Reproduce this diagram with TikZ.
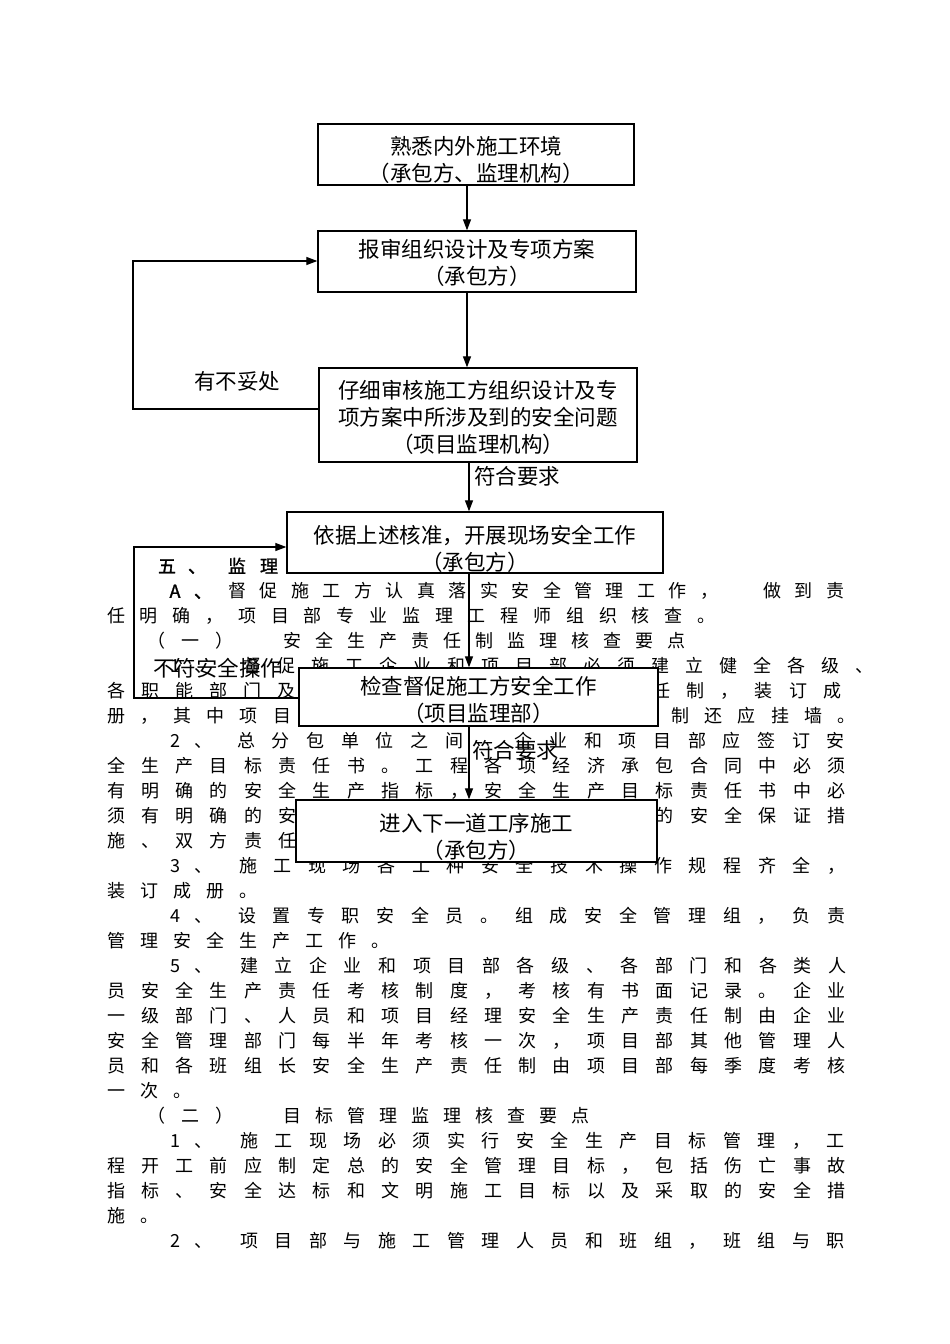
\documentclass[tikz,border=0pt]{standalone}
\usepackage{fontspec}
\newfontfamily\cjk{Noto Sans CJK SC}
\newfontfamily\cjkb[FakeBold=1.5]{Noto Sans CJK SC}
\usetikzlibrary{arrows.meta}
\tikzset{
  bt/.style={inner sep=0pt, anchor=center, text height=15.84pt, text depth=2.16pt, font=\cjk\fontsize{18}{18}\selectfont},
  btb/.style={bt, font=\cjkb\fontsize{18}{18}\selectfont},
  fbox/.style={draw, line width=1.3pt, fill=white, inner sep=0pt, align=center, font=\cjk\fontsize{21.5}{27}\selectfont},
  lbl/.style={inner sep=0pt, font=\cjk\fontsize{21.5}{27}\selectfont},
  conn/.style={line width=1.2pt, -{Triangle[length=11pt,width=8pt]}},
}
\newcommand\TL[4]{\foreach \cc [count=\ii from 0] in {#4}{\node[bt] (t#1n\ii) at ({#2+\ii*#3},#1) {\cc};}}
\newcommand\TP[3][bt]{\foreach \xx/\cc [count=\ii] in {#3}{\node[#1] (p#2n\ii) at (\xx,#2) {\cc};}}
% strut that pushes a box's text down by #1 pt
\newcommand\dn[1]{\rule{0pt}{\dimexpr 19pt+2\dimexpr #1pt\relax\relax}}
\begin{document}
\begin{tikzpicture}[x=1pt,y=-1pt]
\useasboundingbox (0,0) rectangle (950,1344);
\fill[white] (0,0) rectangle (950,1344);
% ---------------- body text ----------------
\TP[btb]{566}{167/五,197/、,237/监,269/理}
\TP[btb]{591}{175/A,203/、}
\TL{591}{237.5}{31.45}{督,促,施,工,方,认,真,落,实,安,全,管,理,工,作,，,{},做,到,责}
\TL{616}{116}{32.8}{任,明,确,，,项,目,部,专,业,监,理,工,程,师,组,织,核,查,。}
\TP{641}{156/（,190/一,224/）}
\TL{641}{292}{32}{安,全,生,产,责,任,制,监,理,核,查,要,点}
\TP{666}{175/1,203/、}
\TL{666}{252}{34}{督,促,施,工,企,业,和,项,目,部,必,须,建,立,健,全,各,级,、}
\TL{691}{116}{34.1}{各,职,能,部,门,及,{},{},{},{},{},{},{},{},{},{},任,制,，,装,订,成}
\TL{716}{116}{33.2}{册,，,其,中,项,目,{},{},{},{},{},{},{},{},{},{},{},制,还,应,挂,墙,。}
\TP{741}{175/2,203/、}
\TL{741}{246}{34.7}{总,分,包,单,位,之,间,{},企,业,和,项,目,部,应,签,订,安}
\TL{766}{116}{34.3}{全,生,产,目,标,责,任,书,。,工,程,各,项,经,济,承,包,合,同,中,必,须}
\TL{791}{116}{34.3}{有,明,确,的,安,全,生,产,指,标,，,安,全,生,产,目,标,责,任,书,中,必}
\TL{816}{116}{34.3}{须,有,明,确,的,安,{},{},{},{},{},{},{},{},{},{},的,安,全,保,证,措}
\TL{841}{116}{34.3}{施,、,双,方,责,任}
\TP{866}{175/3,203/、}
\TL{866}{248}{34.6}{施,工,现,场,各,工,种,安,全,技,术,操,作,规,程,齐,全,，}
\TL{891}{116}{33}{装,订,成,册,。}
\TP{916}{175/4,203/、}
\TL{916}{247}{34.65}{设,置,专,职,安,全,员,。,组,成,安,全,管,理,组,，,负,责}
\TL{941}{116}{33}{管,理,安,全,生,产,工,作,。}
\TP{966}{175/5,203/、}
\TL{966}{249}{34.6}{建,立,企,业,和,项,目,部,各,级,、,各,部,门,和,各,类,人}
\TL{991}{116}{34.3}{员,安,全,生,产,责,任,考,核,制,度,，,考,核,有,书,面,记,录,。,企,业}
\TL{1016}{116}{34.3}{一,级,部,门,、,人,员,和,项,目,经,理,安,全,生,产,责,任,制,由,企,业}
\TL{1041}{116}{34.3}{安,全,管,理,部,门,每,半,年,考,核,一,次,，,项,目,部,其,他,管,理,人}
\TL{1066}{116}{34.3}{员,和,各,班,组,长,安,全,生,产,责,任,制,由,项,目,部,每,季,度,考,核}
\TL{1091}{116}{33}{一,次,。}
\TP{1116}{156/（,190/二,224/）}
\TL{1116}{292}{32}{目,标,管,理,监,理,核,查,要,点}
\TP{1141}{175/1,203/、}
\TL{1141}{249}{34.5}{施,工,现,场,必,须,实,行,安,全,生,产,目,标,管,理,，,工}
\TL{1166}{116}{34.3}{程,开,工,前,应,制,定,总,的,安,全,管,理,目,标,，,包,括,伤,亡,事,故}
\TL{1191}{116}{34.3}{指,标,、,安,全,达,标,和,文,明,施,工,目,标,以,及,采,取,的,安,全,措}
\TL{1216}{116}{33}{施,。}
\TP{1241}{175/2,203/、}
\TL{1241}{249}{34.5}{项,目,部,与,施,工,管,理,人,员,和,班,组,，,班,组,与,职}
% ---------------- flowchart boxes ----------------
\node[fbox, minimum width=316pt, minimum height=61pt] (b1) at (476,154.5) {\dn{5}熟悉内外施工环境\\（承包方、监理机构）};
\node[fbox, minimum width=318pt, minimum height=61pt] (b2) at (477,261.5) {\dn{1}报审组织设计及专项方案\\（承包方）};
\node[fbox, minimum width=318pt, minimum height=94pt] (b3) at (478,415) {\dn{2}仔细审核施工方组织设计及专\\项方案中所涉及到的安全问题\\（项目监理机构）};
\node[fbox, minimum width=376pt, minimum height=61pt] (b4) at (475,542.5) {\dn{6}依据上述核准，开展现场安全工作\\（承包方）};
\node[fbox, minimum width=359pt, minimum height=58pt] (b5) at (478.5,697) {\dn{3}检查督促施工方安全工作\\（项目监理部）};
\node[fbox, minimum width=361pt, minimum height=62pt] (b6) at (476.5,831) {\dn{6}进入下一道工序施工\\（承包方）};
% ---------------- connectors ----------------
\coordinate (xa) at (467,0);
\coordinate (xb) at (469,0);
\coordinate (lxa) at (133,0);
\coordinate (lxb) at (134,0);
\coordinate (ya1) at (0,409);
\coordinate (ya2) at (0,261);
\coordinate (yb1) at (0,698);
\coordinate (yb2) at (0,547);
\draw[conn] (b1.south -| xa) -- (b2.north -| xa);
\draw[conn] (b2.south -| xa) -- (b3.north -| xa);
\draw[conn] (b3.south -| xb) -- (b4.north -| xb);
\draw[conn] (b4.south -| xb) -- (b5.north -| xb);
\draw[conn] (b5.south -| xb) -- (b6.north -| xb);
\draw[conn] (b3.west |- ya1) -| (lxa |- ya2) -- (b2.west |- ya2);
\draw[conn] (b5.west |- yb1) -| (lxb |- yb2) -- (b4.west |- yb2);
% ---------------- labels ----------------
\node[lbl] (l1) at (237,381) {有不妥处};
\node[lbl] (l2) at (517,476) {符合要求};
\node[lbl] (l3) at (217.5,668) {不符安全操作};
\node[lbl] (l4) at (515,750) {符合要求};
\end{tikzpicture}
\end{document}
